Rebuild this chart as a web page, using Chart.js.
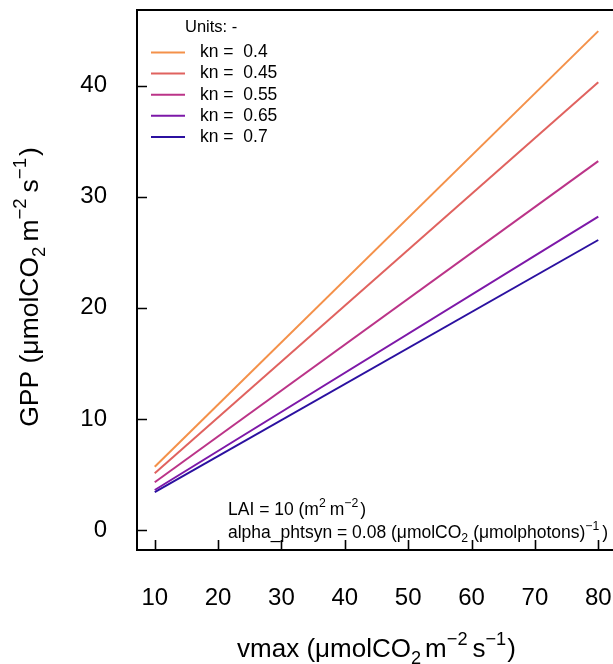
<!DOCTYPE html>
<html>
<head>
<meta charset="utf-8">
<script src="https://cdn.jsdelivr.net/npm/chart.js@4.4.1/dist/chart.umd.min.js"></script>
<style>
  html, body { margin: 0; padding: 0; background: #fff; overflow: hidden; }
  #wrap { width: 620px; height: 664px; }
</style>
</head>
<body>
<div id="wrap"><canvas id="gpp" width="620" height="664"></canvas></div>
<script>
// vmax (umolCO2 m-2 s-1) at the two ends of each line
const vmax = [10, 80];

// GPP, one array per kn value
const gppKn040 = [5.7, 44.9];
const gppKn045 = [5.1, 40.3];
const gppKn055 = [4.3, 33.2];
const gppKn065 = [3.6, 28.2];
const gppKn070 = [3.4, 26.1];

const knValues = ["0.4", "0.45", "0.55", "0.65", "0.7"];
const seriesColors = ["#f4914a", "#e0625f", "#bb3488", "#7d18a8", "#2b10a0"];

const xTicks = [10, 20, 30, 40, 50, 60, 70, 80];
const yTicks = [0, 10, 20, 30, 40];

const FONT = "'Liberation Sans', Arial, Helvetica, sans-serif";

const allSeries = [gppKn040, gppKn045, gppKn055, gppKn065, gppKn070];

const datasets = allSeries.map((vals, i) => ({
  label: "kn =  " + knValues[i],
  data: vals.map((v, j) => ({ x: vmax[j], y: v })),
  borderColor: seriesColors[i],
  borderWidth: 2,
  pointRadius: 0,
  tension: 0,
  fill: false,
}));

// draws a string made of pieces, some raised or lowered
function richWidth(ctx, parts, size) {
  let w = 0;
  parts.forEach(p => {
    const s = p.s ? size * 0.7 : size;
    ctx.font = s + "px " + FONT;
    w += ctx.measureText(p.t).width + (p.gap || 0);
  });
  return w;
}

function drawRich(ctx, parts, x, y, size, align) {
  let w = richWidth(ctx, parts, size);
  let cx = align === "center" ? x - w / 2 : x;
  ctx.textBaseline = "alphabetic";
  ctx.textAlign = "left";
  parts.forEach(p => {
    const s = p.s ? size * 0.7 : size;
    ctx.font = s + "px " + FONT;
    let dy = 0;
    if (p.s === "sup") dy = -size * 0.45;
    if (p.s === "sub") dy = size * 0.25;
    ctx.fillText(p.t, cx, y + dy);
    cx += ctx.measureText(p.t).width + (p.gap || 0);
  });
}

const yTitle = [
  { t: "GPP (\u03bcmolCO" }, { t: "2", s: "sub", gap: 5 }, { t: "m" },
  { t: "\u22122", s: "sup", gap: 6 }, { t: "s" }, { t: "\u22121", s: "sup", gap: 2 }, { t: ")" },
];
const xTitle = [
  { t: "vmax (\u03bcmolCO" }, { t: "2", s: "sub", gap: 4 }, { t: "m" },
  { t: "\u22122", s: "sup", gap: 5 }, { t: "s" }, { t: "\u22121", s: "sup", gap: 1 }, { t: ")" },
];
const noteLai = [
  { t: "LAI = 10 (m" }, { t: "2", s: "sup", gap: 4 }, { t: "m" }, { t: "\u22122", s: "sup", gap: 2 }, { t: ")" },
];
const noteAlpha = [
  { t: "alpha_phtsyn = 0.08 (\u03bcmolCO" }, { t: "2", s: "sub", gap: 5 },
  { t: "(\u03bcmolphotons)" }, { t: "\u22121", s: "sup", gap: 3 }, { t: ")" },
];

const decorations = {
  id: "decorations",
  afterDraw(chart) {
    const ctx = chart.ctx;
    const a = chart.chartArea;
    const xs = chart.scales.x;
    const ys = chart.scales.y;
    ctx.save();
    ctx.strokeStyle = "#000";
    // plot box
    ctx.lineWidth = 2;
    ctx.strokeRect(a.left, a.top, a.right - a.left, a.bottom - a.top);
    // inward ticks
    ctx.lineWidth = 1.6;
    ctx.beginPath();
    xTicks.forEach(v => {
      const px = Math.round(xs.getPixelForValue(v)) + 0.5;
      ctx.moveTo(px, a.bottom);
      ctx.lineTo(px, a.bottom - 10);
    });
    yTicks.forEach(v => {
      const py = Math.round(ys.getPixelForValue(v)) + 0.5;
      ctx.moveTo(a.left, py);
      ctx.lineTo(a.left + 10, py);
    });
    ctx.stroke();

    ctx.fillStyle = "#000";
    // legend
    ctx.font = "16.5px " + FONT;
    ctx.textBaseline = "middle";
    ctx.textAlign = "left";
    ctx.fillText("Units: -", 185, 27);
    chart.data.datasets.forEach((ds, i) => {
      const ly = 52.5 + i * 21.1;
      ctx.strokeStyle = ds.borderColor;
      ctx.lineWidth = 2;
      ctx.beginPath();
      ctx.moveTo(151, ly);
      ctx.lineTo(185, ly);
      ctx.stroke();
      ctx.font = "17.5px " + FONT;
      ctx.fillText(ds.label, 200, ly);
    });

    // notes inside the plot
    drawRich(ctx, noteLai, 228, 515, 17.5, "left");
    drawRich(ctx, noteAlpha, 228, 538, 17.5, "left");

    // axis titles
    drawRich(ctx, xTitle, (a.left + a.right) / 2, 657, 26, "center");
    ctx.translate(38, 287);
    ctx.rotate(-Math.PI / 2);
    drawRich(ctx, yTitle, 0, 0, 26.5, "center");
    ctx.restore();
  },
};

function noPad(s) {
  s.paddingLeft = 0;
  s.paddingRight = 0;
  s.paddingTop = 0;
  s.paddingBottom = 0;
}

new Chart(document.getElementById("gpp"), {
  type: "line",
  data: { datasets },
  options: {
    responsive: false,
    animation: false,
    devicePixelRatio: 1,
    layout: { padding: { top: 10, right: 4, left: 0, bottom: 0 } },
    plugins: {
      legend: { display: false },
      tooltip: { enabled: false },
    },
    scales: {
      x: {
        type: "linear",
        min: 7.2,
        max: 82.8,
        grid: { display: false },
        border: { display: false },
        afterBuildTicks: s => { s.ticks = xTicks.map(v => ({ value: v })); },
        afterFit: s => { s.height = 114; noPad(s); },
        ticks: {
          padding: 26,
          color: "#000",
          maxRotation: 0,
          autoSkip: false,
          font: { family: FONT, size: 24 },
        },
      },
      y: {
        type: "linear",
        min: -1.8,
        max: 46.8,
        grid: { display: false },
        border: { display: false },
        afterBuildTicks: s => { s.ticks = yTicks.map(v => ({ value: v })); },
        afterFit: s => { s.width = 137; noPad(s); },
        ticks: {
          padding: 22,
          color: "#000",
          autoSkip: false,
          font: { family: FONT, size: 24 },
        },
      },
    },
  },
  plugins: [decorations],
});
</script>
</body>
</html>
